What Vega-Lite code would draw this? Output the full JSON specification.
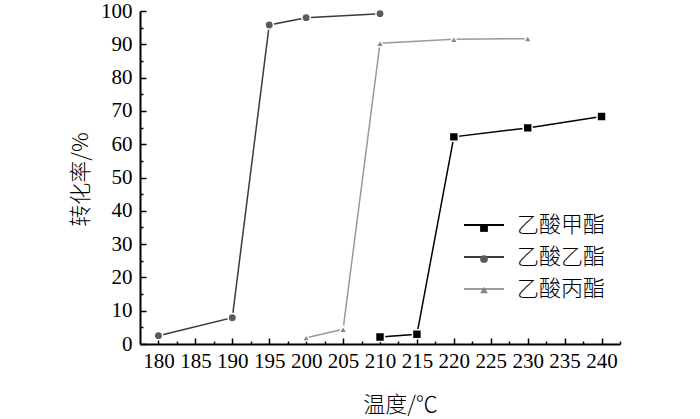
{
  "$schema": "https://vega.github.io/schema/vega-lite/v6.json",
  "width": 480,
  "height": 333,
  "autosize": {"type": "none"},
  "padding": {"left": 140, "top": 11, "right": 80, "bottom": 75},
  "background": "white",
  "config": {
    "view": {"stroke": null}
  },
  "data": {
    "values": [
      {"series": "乙酸甲酯", "temp": 210, "rate": 2.1},
      {"series": "乙酸甲酯", "temp": 215, "rate": 2.9},
      {"series": "乙酸甲酯", "temp": 220, "rate": 62.2},
      {"series": "乙酸甲酯", "temp": 230, "rate": 64.9},
      {"series": "乙酸甲酯", "temp": 240, "rate": 68.3},
      {"series": "乙酸乙酯", "temp": 180, "rate": 2.5},
      {"series": "乙酸乙酯", "temp": 190, "rate": 7.9},
      {"series": "乙酸乙酯", "temp": 195, "rate": 95.8},
      {"series": "乙酸乙酯", "temp": 200, "rate": 98.0},
      {"series": "乙酸乙酯", "temp": 210, "rate": 99.2},
      {"series": "乙酸丙酯", "temp": 200, "rate": 1.9},
      {"series": "乙酸丙酯", "temp": 205, "rate": 4.4},
      {"series": "乙酸丙酯", "temp": 210, "rate": 90.3},
      {"series": "乙酸丙酯", "temp": 220, "rate": 91.5},
      {"series": "乙酸丙酯", "temp": 230, "rate": 91.7}
    ]
  },
  "encoding": {
    "x": {
      "field": "temp",
      "type": "quantitative",
      "scale": {"domain": [177.5, 242.5], "nice": false, "zero": false},
      "axis": {
        "title": "温度/℃",
        "grid": false,
        "domainColor": "black",
        "domainWidth": 2,
        "tickColor": "black",
        "tickWidth": 1.5,
        "tickSize": {"condition": {"test": "datum.value % 5 === 0", "value": -6}, "value": -3},
        "labelFont": "Liberation Serif",
        "labelFontSize": 21,
        "labelColor": "black",
        "titleFont": "Noto Sans CJK SC",
        "titleFontSize": 22,
        "titleFontWeight": 300,
        "titleColor": "black",
        "values": [180, 182.5, 185, 187.5, 190, 192.5, 195, 197.5, 200, 202.5, 205, 207.5, 210, 212.5, 215, 217.5, 220, 222.5, 225, 227.5, 230, 232.5, 235, 237.5, 240, 242.5],
        "labelExpr": "datum.value % 5 === 0 ? datum.label : ''",
        "labelPadding": 12,
        "labelFlush": false,
        "labelOverlap": false,
        "titleX": 260,
        "titleY": 60,
        "titleBaseline": "middle",
        "titleAlign": "center"
      }
    },
    "y": {
      "field": "rate",
      "type": "quantitative",
      "scale": {"domain": [0, 100], "nice": false},
      "axis": {
        "title": "转化率/%",
        "grid": false,
        "domainColor": "black",
        "domainWidth": 2,
        "tickColor": "black",
        "tickWidth": 1.5,
        "tickSize": {"condition": {"test": "datum.value % 10 === 0", "value": -6}, "value": -3},
        "labelFont": "Liberation Serif",
        "labelFontSize": 21,
        "labelColor": "black",
        "titleFont": "Noto Sans CJK SC",
        "titleFontSize": 22,
        "titleFontWeight": 300,
        "titleColor": "black",
        "values": [0, 5, 10, 15, 20, 25, 30, 35, 40, 45, 50, 55, 60, 65, 70, 75, 80, 85, 90, 95, 100],
        "labelExpr": "datum.value % 10 === 0 ? datum.label : ''",
        "labelPadding": 14,
        "labelFlush": false,
        "labelOverlap": false,
        "titleX": -60,
        "titleY": 168,
        "titleBaseline": "middle",
        "titleAlign": "center",
        "titleAngle": 270
      }
    }
  },
  "layer": [
    {
      "mark": {"type": "line", "strokeWidth": 1.5},
      "encoding": {
        "stroke": {
          "field": "series",
          "type": "nominal",
          "sort": ["乙酸甲酯", "乙酸乙酯", "乙酸丙酯"],
          "scale": {"range": ["#000000", "#3a3a3a", "#9a9a9a"]},
          "legend": {
            "orient": "none",
            "legendX": 323,
            "legendY": 193,
            "title": null,
            "padding": 0,
            "symbolType": "stroke",
            "symbolSize": 1600,
            "symbolStrokeWidth": 2,
            "labelFont": "Noto Sans CJK SC",
            "labelFontSize": 22,
            "labelFontWeight": 300,
            "labelColor": "black",
            "labelOffset": 12,
            "rowPadding": -8
          }
        }
      }
    },
    {
      "mark": {"type": "point", "filled": true, "opacity": 1, "stroke": "white", "strokeWidth": 1.5},
      "encoding": {
        "fill": {
          "field": "series",
          "type": "nominal",
          "scale": {"domain": ["乙酸甲酯", "乙酸乙酯", "乙酸丙酯"], "range": ["#000000", "#5a5a5a", "#888888"]},
          "legend": {
            "orient": "none",
            "legendX": 334,
            "legendY": 207,
            "title": null,
            "padding": 0,
            "symbolSize": 60,
            "symbolStrokeColor": "white",
            "symbolStrokeWidth": 1.5,
            "symbolOpacity": 1,
            "labelFont": "Noto Sans CJK SC",
            "labelFontSize": 20,
            "labelExpr": "''",
            "labelOffset": 0,
            "rowPadding": 11
          }
        },
        "shape": {
          "field": "series",
          "type": "nominal",
          "scale": {"domain": ["乙酸甲酯", "乙酸乙酯", "乙酸丙酯"], "range": ["square", "circle", "triangle-up"]},
          "legend": {
            "orient": "none",
            "legendX": 334,
            "legendY": 207,
            "title": null,
            "padding": 0,
            "symbolSize": 60,
            "symbolStrokeColor": "white",
            "symbolStrokeWidth": 1.5,
            "symbolOpacity": 1,
            "labelFont": "Noto Sans CJK SC",
            "labelFontSize": 20,
            "labelExpr": "''",
            "labelOffset": 0,
            "rowPadding": 11
          }
        },
        "size": {
          "field": "series",
          "type": "nominal",
          "sort": ["乙酸甲酯", "乙酸乙酯", "乙酸丙酯"],
          "scale": {"range": [80, 60, 140]},
          "legend": null
        }
      }
    }
  ]
}
